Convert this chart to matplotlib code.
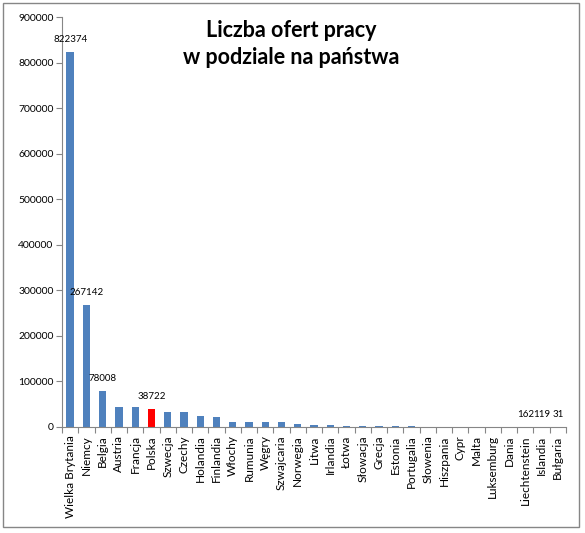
import matplotlib
matplotlib.use("Agg")
import matplotlib.pyplot as plt
from matplotlib.patches import Rectangle

plt.rcParams['font.family'] = ['Lato', 'DejaVu Sans']

countries = ["Wielka Brytania", "Niemcy", "Belgia", "Austria", "Francja", "Polska",
             "Szwecja", "Czechy", "Holandia", "Finlandia", "Włochy", "Rumunia",
             "Węgry", "Szwajcaria", "Norwegia", "Litwa", "Irlandia", "Łotwa",
             "Słowacja", "Grecja", "Estonia", "Portugalia", "Słowenia", "Hiszpania",
             "Cypr", "Malta", "Luksemburg", "Dania", "Liechtenstein", "Islandia",
             "Bułgaria"]
offers = [822374, 267142, 78008, 44500, 44000, 38722,
          34000, 32000, 23500, 21000, 11000, 10500,
          10500, 10000, 7000, 5000, 4800, 2500,
          2500, 2500, 2200, 2000, 900, 700,
          500, 400, 350, 250, 162, 119,
          31]
labelled = ["Wielka Brytania", "Niemcy", "Belgia", "Polska",
            "Liechtenstein", "Islandia", "Bułgaria"]

blue = "#4F81BD"
colors = ["#FF0000" if c == "Polska" else blue for c in countries]

fig = plt.figure(figsize=(5.85, 5.33), dpi=100)
ax = fig.add_axes([62/585, 1 - 427/533, (566 - 62)/585, (427 - 17)/533])

x = range(len(countries))
ax.bar(x, offers, width=0.45, color=colors)

for i, (c, v) in enumerate(zip(countries, offers)):
    if c in labelled:
        ax.annotate(str(v), (i, v), xytext=(0, 6), textcoords="offset points",
                    ha="center", va="bottom", fontsize=7)

ax.set_xlim(-0.5, len(countries) - 0.5)
ax.set_ylim(0, 900000)
ax.set_yticks(range(0, 900001, 100000))
ax.set_yticklabels([str(v) for v in range(0, 900001, 100000)], fontsize=7.5)
ax.set_xticks([i - 0.5 for i in range(len(countries) + 1)], minor=False)
ax.set_xticklabels([])
ax.set_xticks(list(x), minor=True)
ax.set_xticklabels(countries, rotation=90, fontsize=8.5, minor=True)
ax.tick_params(axis="x", which="minor", length=0, pad=6)
ax.tick_params(axis="x", which="major", length=4, direction="out", color="#868686")
ax.tick_params(axis="y", length=4, color="#868686", pad=2)

for side in ["top", "right"]:
    ax.spines[side].set_visible(False)
ax.spines["left"].set_color("#868686")
ax.spines["bottom"].set_color("#868686")

fig.text(291/585, 1 - 44/533, "Liczba ofert pracy\nw podziale na państwa",
         ha="center", va="center", fontsize=15.5, fontweight="bold",
         linespacing=1.3)

fig.patches.append(Rectangle((3/585, 1 - 527/533), 576/585, 524/533,
                             transform=fig.transFigure, fill=False,
                             edgecolor="#868686", linewidth=1))

fig.savefig("out.png", dpi=100)
